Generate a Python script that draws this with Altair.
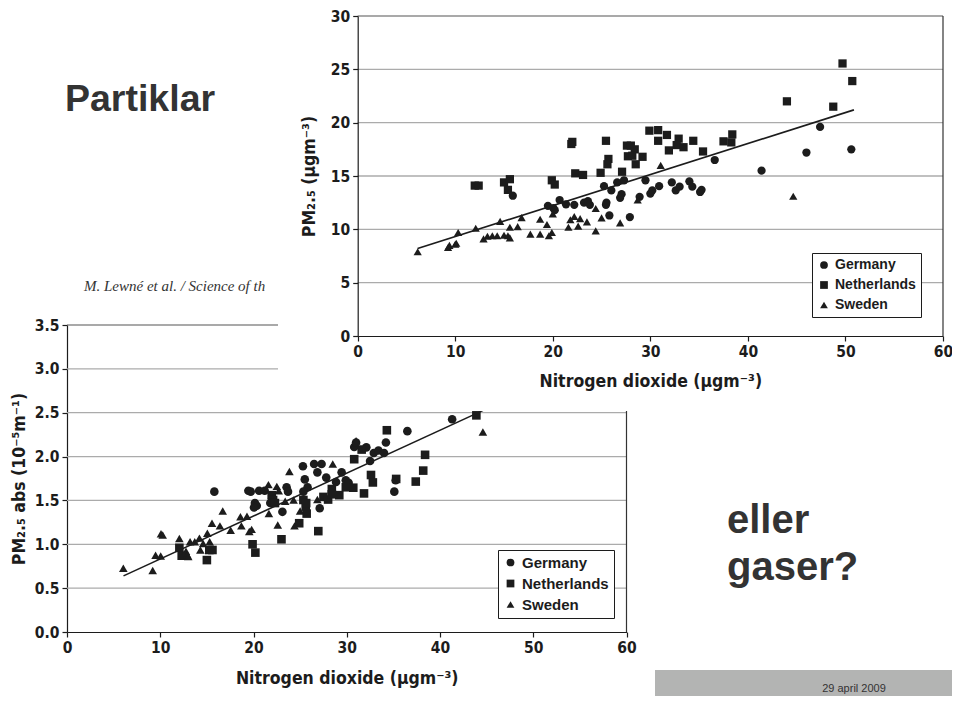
import altair as alt
import pandas as pd

COUNTRIES = ["Germany", "Netherlands", "Sweden"]
SHAPES = ["circle", "square", "triangle-up"]

# ---------- upper panel: PM2.5 (µg m-3) vs NO2 ----------
top_de_no2 = [15.9, 19.5, 20.05, 20.2, 20.7, 21.35, 22.2, 23.2, 23.6, 23.8, 25.25, 26.0, 25.5, 25.45, 25.8,
              26.6, 27.3, 27.05, 26.9, 27.9, 28.9, 29.5, 30.0, 30.2, 30.9, 32.2, 32.6, 33.0, 34.0, 34.3,
              35.1, 35.25, 36.6, 41.4, 46.0, 47.4, 50.6]
top_de_pm = [13.15, 12.2, 12.0, 11.8, 12.75, 12.35, 12.3, 12.5, 12.65, 12.3, 14.05, 13.65, 12.5, 12.3, 11.3,
             14.4, 14.6, 13.3, 12.95, 11.15, 13.05, 14.6, 13.35, 13.65, 14.05, 14.4, 13.65, 14.0, 14.5, 14.0,
             13.5, 13.7, 16.5, 15.5, 17.2, 19.6, 17.5]
top_nl_no2 = [12.0, 12.4, 15.0, 15.6, 15.4, 19.9, 20.2, 21.9, 22.0, 22.3, 23.1, 24.9, 25.45, 25.7, 25.6,
              27.1, 27.6, 28.0, 28.4, 27.7, 28.15, 28.5, 29.2, 29.9, 30.8, 30.8, 31.7, 31.9, 32.9, 32.7,
              33.4, 34.4, 35.4, 37.5, 38.4, 38.3, 44.0, 48.75, 49.7, 50.7]
top_nl_pm = [14.1, 14.1, 14.4, 14.7, 13.7, 14.6, 14.2, 18.0, 18.2, 15.25, 15.1, 15.3, 18.3, 16.6, 16.1,
             15.4, 17.85, 17.85, 17.5, 16.85, 16.9, 16.1, 16.8, 19.25, 19.3, 18.3, 18.85, 17.4, 18.5, 17.9,
             17.7, 18.3, 17.3, 18.25, 18.9, 18.15, 22.0, 21.5, 25.55, 23.9]
top_se_no2 = [6.15, 9.26, 9.4, 10.0, 10.1, 10.3, 12.1, 12.9, 13.3, 13.8, 14.3, 15.0, 15.4, 15.6, 14.6,
              15.6, 16.4, 16.8, 17.7, 18.7, 18.7, 19.4, 19.6, 19.9, 20.0, 21.6, 21.8, 22.2, 22.6, 22.8,
              23.5, 24.4, 24.4, 25.0, 26.9, 28.7, 31.06, 44.65]
top_se_pm = [7.9, 8.3, 8.5, 8.6, 8.7, 9.7, 10.1, 9.1, 9.35, 9.4, 9.4, 9.45, 9.4, 9.2, 10.75,
             10.2, 10.25, 11.1, 9.55, 9.55, 10.95, 10.45, 9.4, 9.7, 11.45, 10.2, 10.9, 11.2, 10.3, 11.0,
             10.7, 9.85, 11.95, 11.07, 10.6, 12.75, 16.0, 13.1]
top_fit_no2 = [6.14, 50.87]
top_fit_pm = [8.2, 21.2]
top_x_ticks = [0, 10, 20, 30, 40, 50, 60]
top_y_ticks = [0, 5, 10, 15, 20, 25, 30]

# ---------- lower panel: PM2.5 absorbance (10-5 m-1) vs NO2 ----------
bot_de_no2 = [15.8, 19.45, 19.7, 20.6, 21.2, 20.15, 20.35, 20.05, 22.0, 21.8, 23.55, 23.7, 23.1, 25.5, 25.8,
              25.35, 25.3, 26.5, 27.3, 26.85, 27.8, 28.85, 29.45, 29.9, 30.2, 27.1, 30.8, 31.0, 32.1, 32.5,
              32.9, 33.4, 34.0, 34.2, 36.5, 35.25, 35.1, 41.3]
bot_de_abs = [1.6, 1.61, 1.6, 1.61, 1.61, 1.47, 1.44, 1.42, 1.52, 1.47, 1.65, 1.6, 1.37, 1.74, 1.65,
              1.6, 1.89, 1.915, 1.915, 1.82, 1.76, 1.71, 1.82, 1.73, 1.70, 1.41, 2.11, 2.16, 2.105, 1.95,
              2.04, 2.07, 2.04, 2.16, 2.29, 1.73, 1.6, 2.425]
bot_nl_no2 = [12.05, 12.3, 15.0, 15.26, 15.6, 19.9, 20.2, 21.95, 22.1, 22.3, 23.0, 24.9, 25.35, 25.6, 25.7,
              26.95, 27.5, 28.0, 28.4, 28.4, 29.2, 29.9, 30.7, 30.8, 31.6, 31.85, 32.6, 32.8, 34.3, 35.3,
              37.4, 38.2, 38.4, 43.9, 25.65]
bot_nl_abs = [0.96, 0.87, 0.82, 0.935, 0.935, 1.0, 0.905, 1.56, 1.505, 1.47, 1.057, 1.24, 1.505, 1.43, 1.35,
              1.15, 1.54, 1.51, 1.63, 1.57, 1.56, 1.65, 1.645, 1.97, 2.08, 1.58, 1.79, 1.705, 2.3, 1.745,
              1.715, 1.84, 2.02, 2.47, 1.47]
bot_se_no2 = [6.04, 9.19, 9.5, 10.05, 10.08, 10.26, 12.05, 12.76, 12.9, 13.0, 13.2, 13.7, 14.2, 14.6, 14.3,
              15.3, 15.05, 15.55, 16.4, 16.7, 17.55, 18.6, 18.7, 19.3, 19.55, 19.8, 21.6, 22.5, 22.7, 21.65,
              22.6, 23.4, 23.85, 24.3, 24.4, 25.0, 26.85, 28.5, 31.0, 44.6]
bot_se_abs = [0.726, 0.70, 0.875, 0.867, 1.12, 1.105, 1.065, 0.92, 0.88, 0.86, 1.03, 1.03, 1.07, 1.01, 0.935,
              1.03, 1.125, 1.24, 1.21, 1.38, 1.16, 1.315, 1.21, 1.32, 1.145, 1.17, 1.68, 1.66, 1.61, 1.35,
              1.22, 1.49, 1.83, 1.505, 1.21, 1.38, 1.51, 1.915, 2.18, 2.28]
bot_fit_no2 = [6.06, 44.8]
bot_fit_abs = [0.64, 2.535]
bot_x_ticks = [0, 10, 20, 30, 40, 50, 60]
bot_y_ticks = [0.0, 0.5, 1.0, 1.5, 2.0, 2.5, 3.0, 3.5]

# ---------- slide text ----------
slide_title = "Partiklar"
citation = "M. Lewné et al. / Science of th"
question = ["eller", "gaser?"]
footer = "29 april 2009"

# ---------- styling / layout ----------
W, H = 944, 688
INK = "#1c1c1c"
GRID = "#ababab"
SLIDE_INK = "#333333"
NARROW = "Liberation Sans Narrow, DejaVu Sans Condensed, Arial Narrow, sans-serif"
SANS = "Liberation Sans, Arial, sans-serif"
SERIF = "Liberation Serif, Times New Roman, serif"

XB = alt.Scale(domain=[0, 60], range=[59, 618.5], nice=False, zero=False)
YB = alt.Scale(domain=[0, 3.5], range=[624, 317], nice=False, zero=False)
XT = alt.Scale(domain=[0, 60], range=[349.7, 935], nice=False, zero=False)
YT = alt.Scale(domain=[0, 30], range=[328, 8], nice=False, zero=False)
SHAPE_SCALE = alt.Scale(domain=COUNTRIES, range=SHAPES)


def points_frame(groups):
    frames = []
    for xs, ys, name in groups:
        frames.append(pd.DataFrame({"no2": xs, "val": ys, "country": name}))
    return pd.concat(frames, ignore_index=True)


top_df = points_frame([(top_de_no2, top_de_pm, "Germany"),
                       (top_nl_no2, top_nl_pm, "Netherlands"),
                       (top_se_no2, top_se_pm, "Sweden")])
bot_df = points_frame([(bot_de_no2, bot_de_abs, "Germany"),
                       (bot_nl_no2, bot_nl_abs, "Netherlands"),
                       (bot_se_no2, bot_se_abs, "Sweden")])


def axis(orient, offset, values, title, title_pad, fmt=None, z=0):
    kw = dict(orient=orient, offset=offset, values=values, grid=False, title=title,
              domainColor=INK, domainWidth=1.2, tickColor=INK, tickSize=5, tickWidth=1.2,
              labelFont=NARROW, labelFontSize=15.5, labelFontWeight="bold", labelColor=INK,
              labelPadding=3, labelFlush=False, labelOverlap=False,
              titleFont=NARROW, titleFontSize=17.5, titleFontWeight="bold", titleColor=INK,
              titlePadding=title_pad, zindex=z)
    if fmt:
        kw["format"] = fmt
    return alt.Axis(**kw)


def legend(x, y, fs, pad, rowpad, z):
    return alt.Legend(orient="none", legendX=x, legendY=y, title=None,
                      strokeColor=INK, fillColor="white", padding=pad,
                      labelFont=SANS, labelFontSize=fs, labelFontWeight="bold", labelColor=INK,
                      symbolSize=60, symbolFillColor=INK, symbolStrokeColor=INK, symbolStrokeWidth=0,
                      rowPadding=rowpad, labelOffset=4, zindex=z)


def panel(df, xs, ys, x_ticks, y_ticks, fit_x, fit_y, xax, yax, leg, size):
    ymax = y_ticks[-1]
    grid_df = pd.DataFrame({"v": y_ticks[1:-1], "a": x_ticks[0], "b": x_ticks[-1]})
    grid = alt.Chart(grid_df).mark_rule(color=GRID, strokeWidth=1.3).encode(
        y=alt.Y("v:Q", scale=ys, axis=None),
        x=alt.X("a:Q", scale=xs, axis=None), x2="b:Q")
    top_df_ = pd.DataFrame({"v": [ymax], "a": x_ticks[0], "b": x_ticks[-1]})
    top_line = alt.Chart(top_df_).mark_rule(color="#555555", strokeWidth=1.2).encode(
        y=alt.Y("v:Q", scale=ys, axis=None),
        x=alt.X("a:Q", scale=xs, axis=None), x2="b:Q")
    right_df = pd.DataFrame({"x": [x_ticks[-1]], "y0": [y_ticks[0]], "y1": [ymax]})
    right_line = alt.Chart(right_df).mark_rule(color="#333333", strokeWidth=1.2).encode(
        x=alt.X("x:Q", scale=xs, axis=None),
        y=alt.Y("y0:Q", scale=ys, axis=None), y2="y1:Q")
    fit_df = pd.DataFrame({"no2": fit_x, "val": fit_y})
    fit = alt.Chart(fit_df).mark_line(color=INK, strokeWidth=1.6).encode(
        x=alt.X("no2:Q", scale=xs, axis=None),
        y=alt.Y("val:Q", scale=ys, axis=None))
    pts = alt.Chart(df).mark_point(filled=True, opacity=1, color=INK, size=size).encode(
        x=alt.X("no2:Q", scale=xs, axis=xax),
        y=alt.Y("val:Q", scale=ys, axis=yax),
        shape=alt.Shape("country:N", scale=SHAPE_SCALE, legend=leg))
    return [grid, top_line, right_line, fit, pts]


lower = panel(bot_df, XB, YB, bot_x_ticks, bot_y_ticks, bot_fit_no2, bot_fit_abs,
              axis("bottom", -(H - 624), bot_x_ticks, "Nitrogen dioxide (µgm⁻³)", 14),
              axis("left", -59, bot_y_ticks, "PM₂.₅ abs (10⁻⁵m⁻¹)", 6, fmt=".1f"),
              legend(490, 542, 15, 5, 5, 0), 74)
upper = panel(top_df, XT, YT, top_x_ticks, top_y_ticks, top_fit_no2, top_fit_pm,
              axis("bottom", -(H - 328), top_x_ticks, "Nitrogen dioxide (µgm⁻³)", 13, z=1),
              axis("left", -349.7, top_y_ticks, "PM₂.₅ (µgm⁻³)", 12, z=1),
              legend(804, 245, 14, 5, 6, 1), 68)

one = pd.DataFrame({"k": [0]})


def text(t, x, y, size, font=SANS, weight="bold", style="normal", color=SLIDE_INK, align="left",
         baseline="alphabetic"):
    return alt.Chart(pd.DataFrame({"t": [t]})).mark_text(
        font=font, fontSize=size, fontWeight=weight, fontStyle=style, color=color,
        align=align, baseline=baseline).encode(text="t:N", x=alt.value(x), y=alt.value(y))


citation_text = text(citation, 76, 283, 15, font=SERIF, weight="normal", style="italic")
cover = alt.Chart(one).mark_rect(color="white").encode(
    x=alt.value(270), x2=alt.value(W), y=alt.value(0), y2=alt.value(403))
title_text = text(slide_title, 57, 103, 37.5)
q1 = text(question[0], 719, 525, 40)
q2 = text(question[1], 719, 572, 40)
footer_box = alt.Chart(one).mark_rect(color="#b3b4b3").encode(
    x=alt.value(647), x2=alt.value(W), y=alt.value(662), y2=alt.value(H))
footer_text = text(footer, 846, 684, 11, weight="normal", align="center")

chart = alt.layer(
    *lower, citation_text, cover, *upper, title_text, q1, q2, footer_box, footer_text
).resolve_scale(
    x="independent", y="independent", shape="independent"
).properties(
    width=W, height=H, autosize=alt.AutoSizeParams(type="none"), padding=0, background="white"
).configure_view(stroke=None)

chart.save("out.html", embed_options={"renderer": "svg", "actions": False})
